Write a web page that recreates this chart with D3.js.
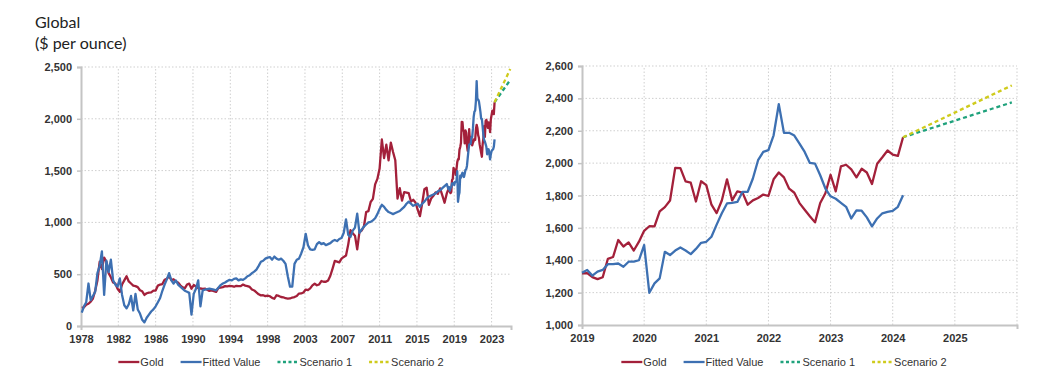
<!DOCTYPE html>
<html>
<head>
<meta charset="utf-8">
<script src="https://cdn.jsdelivr.net/npm/d3@7"></script>
<style>
  body { margin: 0; background: #fff; }
  svg text { font-family: "Liberation Sans", Arial, sans-serif; }
</style>
</head>
<body>
<svg id="chart" width="1056" height="376"></svg>
<script>
/* ======================== DATA ========================= */
/* ======================================================= */

// quarterly values, 1978 Q1 .. 2018 Q4 ($ per ounce)
const goldQuarterly = [
  175, 180, 205, 215,   235, 265, 340, 440,   620, 550, 660, 620,   510, 470, 420, 410,
  360, 330, 400, 440,   480, 430, 410, 390,   385, 375, 345, 335,   300, 316, 323, 325,
  342, 342, 390, 400,   405, 447, 456, 480,   446, 451, 430, 420,   393, 374, 363, 400,
  409, 360, 395, 381,   365, 362, 358, 361,   350, 339, 344, 337,   330, 367, 371, 375,
  385, 382, 387, 384,   379, 387, 384, 385,   400, 390, 385, 377,   352, 343, 324, 306,
  296, 297, 288, 294,   287, 272, 263, 297,   290, 280, 277, 268,   264, 266, 275, 279,
  290, 313, 314, 323,   352, 347, 363, 392,   408, 393, 401, 434,   427, 427, 440, 485,
  554, 628, 622, 614,   650, 667, 680, 788,   925, 896, 872, 740,   908, 922, 960, 1100,
  1109, 1197, 1227, 1367, 1420, 1520, 1800, 1620, 1750, 1600, 1770, 1680, 1600, 1230, 1330, 1210,
  1293, 1288, 1282, 1201, 1218, 1192, 1124, 1060, 1183, 1320, 1335, 1170, 1230, 1257, 1290, 1275,
  1329, 1260, 1190, 1280
];

const fittedQuarterly = [
  130, 190, 230, 410,   250, 290, 330, 510,   580, 720, 300, 630,   520, 640, 440, 400,
  380, 460, 300, 200,   170, 210, 290, 150,   310, 160, 120, 60,    35, 80, 110, 140,
  160, 190, 230, 270,   340, 400, 450, 510,   440, 410, 440, 400,   380, 360, 340, 330,
  320, 110, 310, 360,   440, 190, 345, 350,   355, 360, 355, 350,   345, 370, 395, 410,
  420, 435, 445, 440,   455, 460, 440, 450,   445, 460, 480, 490,   510, 525, 545, 580,
  620, 630, 650, 660,   665, 640, 670, 650,   640, 650, 630, 600,   480, 380, 380, 600,
  640, 650, 700, 760,   890, 780, 740, 735,   740, 790, 810, 790,   800, 780, 790, 800,
  820, 830, 820, 840,   850, 900, 1030, 880,  860, 920, 950, 1085,  900, 930, 960, 980,
  1000, 1005, 1020, 1040, 1080, 1130, 1170, 1150, 1120, 1100, 1090, 1080, 1090, 1100, 1110, 1130,
  1150, 1180, 1200, 1180, 1160, 1170, 1180, 1150, 1180, 1200, 1230, 1250, 1260, 1270, 1280, 1300,
  1310, 1330, 1350, 1370
];

// monthly values, Jan 2019 .. Mar 2024
const goldMonthly = [
  1319, 1320, 1296, 1283, 1295, 1409, 1420, 1525, 1485, 1510, 1460, 1515,
  1582, 1610, 1609, 1702, 1728, 1769, 1971, 1969, 1887, 1879, 1763, 1888,
  1864, 1743, 1691, 1769, 1900, 1770, 1826, 1818, 1743, 1770, 1785, 1806,
  1797, 1900, 1942, 1912, 1842, 1817, 1753, 1712, 1672, 1634, 1754, 1814,
  1928, 1826, 1980, 1990, 1962, 1912, 1965, 1942, 1871, 1996, 2036, 2078,
  2053, 2045, 2160
];

const fittedMonthly = [
  1323, 1340, 1305, 1330, 1340, 1376, 1376, 1380, 1360, 1391, 1391, 1400,
  1494, 1199, 1257, 1288, 1452, 1432, 1460, 1479, 1460, 1438, 1470, 1508,
  1514, 1545, 1620, 1690, 1751, 1755, 1760, 1823, 1823, 1905, 2018, 2069,
  2080, 2172, 2364, 2187, 2187, 2170, 2121, 2069, 2001, 1997, 1925, 1843,
  1795, 1780, 1755, 1730, 1658, 1708, 1706, 1665, 1609, 1658, 1690, 1699,
  1705, 1730, 1802
];

// scenario paths: [start, end of 2025]
const scenario1 = [2160, 2375];
const scenario2 = [2160, 2480];

const leftTickLabels  = ["1978", "1982", "1986", "1990", "1994", "1998", "2003", "2007", "2011", "2015", "2019", "2023"];
const rightTickLabels = ["2019", "2020", "2021", "2022", "2023", "2024", "2025"];
const leftYTicks  = [0, 500, 1000, 1500, 2000, 2500];
const rightYTicks = [1000, 1200, 1400, 1600, 1800, 2000, 2200, 2400, 2600];

const seriesNames = ["Gold", "Fitted Value", "Scenario 1", "Scenario 2"];

/* ======================================================= */

const colors = { gold: "#a3203a", fitted: "#3d70b2", s1: "#1fa27c", s2: "#cfcb1c" };
const dashes = [null, null, "4,3", "4,3"];
const seriesColors = [colors.gold, colors.fitted, colors.s1, colors.s2];

const svg = d3.select("#chart");

svg.append("text").attr("x", 35).attr("y", 28)
   .style("font-family", "Lato, 'Open Sans', sans-serif")
   .style("font-size", "16px").attr("fill", "#222").text("Global");
svg.append("text").attr("x", 35).attr("y", 49)
   .style("font-family", "Lato, 'Open Sans', sans-serif")
   .style("font-size", "16px").attr("fill", "#222").text("($ per ounce)");

/* ================== LEFT: 1978 .. 2025 ================= */

const monthsOf2019 = 41 * 12;            // month index of Jan 2019 from Jan 1978
const lastMonth = monthsOf2019 + goldMonthly.length - 1;

function joinSeries(quarterly, monthly) {
    let pts = quarterly.map((v, i) => [i * 3 + 1, v]);
    return pts.concat(monthly.map((v, i) => [monthsOf2019 + i, v]));
}

let xL = d3.scaleLinear().domain([0, 576]).range([81, 511]);
let yL = d3.scaleLinear().domain([0, 2500]).range([326, 67]);

drawPanel({
    x: xL, y: yL,
    xTicks: leftTickLabels.map((d, i) => i * 50),
    xLabels: leftTickLabels,
    yTicks: leftYTicks,
    extraGrid: [],
    gold: joinSeries(goldQuarterly, goldMonthly),
    fitted: joinSeries(fittedQuarterly, fittedMonthly),
    s1: [[lastMonth, scenario1[0]], [575, scenario1[1]]],
    s2: [[lastMonth, scenario2[0]], [575, scenario2[1]]],
    legendCenter: 281
});

/* ================== RIGHT: 2019 .. 2025 ================ */

let xR = d3.scaleLinear().domain([0, 84]).range([582, 1017]);
let yR = d3.scaleLinear().domain([1000, 2600]).range([325, 66]);

drawPanel({
    x: xR, y: yR,
    xTicks: rightTickLabels.map((d, i) => i * 12),
    xLabels: rightTickLabels,
    yTicks: rightYTicks,
    extraGrid: [84],
    gold: goldMonthly.map((v, i) => [i, v]),
    fitted: fittedMonthly.map((v, i) => [i, v]),
    s1: [[goldMonthly.length - 1, scenario1[0]], [83, scenario1[1]]],
    s2: [[goldMonthly.length - 1, scenario2[0]], [83, scenario2[1]]],
    legendCenter: 784
});

/* =================== HELPER FUNCTIONS ================== */
/* ======================================================= */

function drawPanel(p) {
    let g = svg.append("g");
    let [x0, x1] = p.x.range();
    let [yb, yt] = p.y.range();

    // dotted grid
    g.append("g").selectAll("line.h")
     .data(p.yTicks.slice(1))
     .join("line")
     .attr("x1", x0).attr("x2", x1)
     .attr("y1", d => p.y(d)).attr("y2", d => p.y(d))
     .attr("stroke", "#cfcfcf").attr("stroke-width", 1)
     .attr("stroke-dasharray", "1.5,2");
    g.append("g").selectAll("line.v")
     .data(p.xTicks.slice(1).concat(p.extraGrid))
     .join("line")
     .attr("x1", d => p.x(d)).attr("x2", d => p.x(d))
     .attr("y1", yb).attr("y2", yt)
     .attr("stroke", "#cfcfcf").attr("stroke-width", 1)
     .attr("stroke-dasharray", "1.5,2");

    // axes
    let ay = g.append("g")
              .attr("transform", `translate(${x0},0)`)
              .call(d3.axisLeft(p.y).tickValues(p.yTicks)
                      .tickFormat(d3.format(",")).tickSize(4).tickPadding(5));
    let ax = g.append("g")
              .attr("transform", `translate(0,${yb})`)
              .call(d3.axisBottom(p.x).tickValues(p.xTicks)
                      .tickFormat((d, i) => p.xLabels[i])
                      .tickSizeInner(0).tickSizeOuter(4).tickPadding(9));
    [ay, ax].forEach(a => {
        a.select(".domain").attr("stroke", "#c4c4c4").attr("stroke-width", 2);
        a.selectAll(".tick line").attr("stroke", "#c4c4c4").attr("stroke-width", 1.5);
        a.selectAll("text").attr("fill", "#333")
         .style("font-size", "11px").style("font-weight", "bold");
    });

    // series
    let line = d3.line().x(d => p.x(d[0])).y(d => p.y(d[1]));
    [[p.gold, 0], [p.fitted, 1], [p.s1, 2], [p.s2, 3]].forEach(([pts, k]) => {
        g.append("path")
         .datum(pts)
         .attr("d", line)
         .attr("fill", "none")
         .attr("stroke", seriesColors[k])
         .attr("stroke-width", 2.3)
         .attr("stroke-linejoin", "round")
         .attr("stroke-dasharray", dashes[k]);
    });

    drawLegend(p.legendCenter, 362);
}

function drawLegend(cx, cy) {
    let lg = svg.append("g");
    let items = lg.selectAll("g").data(seriesNames).join("g");
    items.append("line")
         .attr("x1", 0).attr("x2", 21).attr("y1", 0).attr("y2", 0)
         .attr("stroke", (d, i) => seriesColors[i])
         .attr("stroke-width", 2.3)
         .attr("stroke-dasharray", (d, i) => i > 1 ? "3,2.5" : null);
    items.append("text")
         .attr("x", 22).attr("y", 4)
         .style("font-size", "11px").attr("fill", "#333")
         .text(d => d);

    let pos = 0;
    items.each(function () {
        let w = this.getBBox().width;
        d3.select(this).attr("data-x", pos);
        pos += w + 17;
    });
    let total = pos - 17;
    items.attr("transform", function () {
        return `translate(${cx - total / 2 + (+this.getAttribute("data-x"))},${cy})`;
    });
}
</script>
</body>
</html>
